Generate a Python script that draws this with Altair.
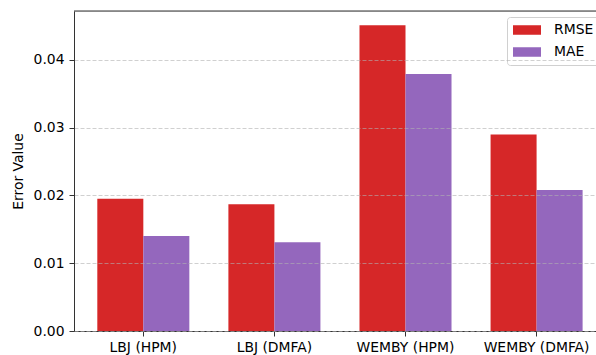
import altair as alt
import pandas as pd

categories = ["LBJ (HPM)", "LBJ (DMFA)", "WEMBY (HPM)", "WEMBY (DMFA)"]
rmse = [0.0195, 0.0187, 0.0451, 0.0290]
mae = [0.0140, 0.0131, 0.0379, 0.0208]
metrics = ["RMSE", "MAE"]
colors = ["#d62728", "#9467bd"]
y_ticks = [0.0, 0.01, 0.02, 0.03, 0.04]
y_max = 0.0472

rows = []
for c, r, m in zip(categories, rmse, mae):
    rows.append({"Model": c, "Metric": "RMSE", "Value": r})
    rows.append({"Model": c, "Metric": "MAE", "Value": m})
df = pd.DataFrame(rows)

W, H = 522, 320
FONT = "DejaVu Sans"
FS = 13.9

bars = alt.Chart(df).mark_bar().encode(
    x=alt.X("Model:N", sort=categories,
            scale=alt.Scale(paddingInner=0.298, paddingOuter=0.14, align=0.635),
            axis=alt.Axis(title=None, labelAngle=0, tickSize=5, labelPadding=4,
                          domainColor="#333333", tickColor="#333333",
                          labelColor="#000000", labelFontSize=FS, labelFont=FONT,
                          grid=False)),
    xOffset=alt.XOffset("Metric:N", sort=metrics,
                        scale=alt.Scale(domain=metrics, paddingInner=0, paddingOuter=0)),
    y=alt.Y("Value:Q", scale=alt.Scale(domain=[0, y_max], nice=False, zero=True),
            axis=alt.Axis(title="Error Value", values=y_ticks, format=".2f",
                          tickSize=5, labelPadding=5, titlePadding=8,
                          titleFontWeight="normal", titleFontSize=FS, titleFont=FONT,
                          titleColor="#000000", labelColor="#000000",
                          labelFontSize=FS, labelFont=FONT,
                          domainColor="#333333", tickColor="#333333",
                          grid=True, gridDash=[4, 2], gridColor="#b0b0b0",
                          gridOpacity=0.6, zindex=1)),
    color=alt.Color("Metric:N", sort=metrics,
                    scale=alt.Scale(domain=metrics, range=colors),
                    legend=alt.Legend(title=None, orient="none", legendX=433, legendY=6,
                                      symbolType="M-2,-0.68H2V0.68H-2Z", symbolSize=196,
                                      symbolStrokeWidth=0, symbolOffset=7, labelOffset=20,
                                      labelFontSize=FS, labelFont=FONT,
                                      labelColor="#000000", padding=6, rowPadding=8,
                                      fillColor="rgba(255,255,255,0.85)",
                                      strokeColor="#d0d0d0", cornerRadius=3)),
)

top_spine = alt.Chart(pd.DataFrame({"a": [0]})).mark_rule(
    color="#333333", strokeWidth=1
).encode(y=alt.value(0), x=alt.value(0), x2=alt.value(W))

chart = alt.layer(bars, top_spine).properties(
    width=W, height=H,
    autosize=alt.AutoSizeParams(type="none"),
    padding={"left": 74, "top": 11, "right": 0, "bottom": 24},
).configure_view(stroke=None).configure(background="white")

chart.save("out.html", embed_options={"renderer": "svg", "actions": False})
